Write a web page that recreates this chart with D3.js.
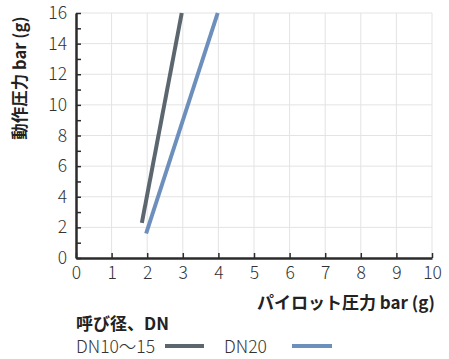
<!DOCTYPE html>
<html><head><meta charset="utf-8">
<script src="https://cdn.jsdelivr.net/npm/d3@7"></script>
<style>body{margin:0;background:#fff}svg{display:block}text{font-family:"Noto Sans CJK JP","Noto Sans",sans-serif}</style>
</head><body><svg id="c" width="449" height="359"></svg>
<script>
const seriesNames = ["DN10〜15", "DN20"];
const seriesColors = ["#5b666f", "#6d8fbb"];
const dn10x = [1.85, 2.97];
const dn10y = [2.3, 16];
const dn20x = [1.97, 3.98];
const dn20y = [1.6, 16];
const xTicks = [0,1,2,3,4,5,6,7,8,9,10];
const yTicks = [0,2,4,6,8,10,12,14,16];
const yMinor = [1,3,5,7,9,11,13,15];
const xLabel = "パイロット圧力 bar (g)";
const yLabel = "動作圧力 bar (g)";
const legendTitle = "呼び径、DN";

const svg = d3.select("#c");
const x = d3.scaleLinear().domain([0,10]).range([76,432]);
const y = d3.scaleLinear().domain([0,16]).range([258,13]);

// grid
svg.append("g").selectAll("line").data(xTicks.slice(1)).join("line")
  .attr("x1", d=>x(d)).attr("x2", d=>x(d)).attr("y1", y(0)).attr("y2", y(16))
  .attr("stroke", "#e3e3e3").attr("stroke-width", 1);
svg.append("g").selectAll("line").data(yTicks.slice(1)).join("line")
  .attr("x1", x(0)).attr("x2", x(10)).attr("y1", d=>y(d)).attr("y2", d=>y(d))
  .attr("stroke", "#e3e3e3").attr("stroke-width", 1);

// series
const series = [
  dn10x.map((v,i)=>[v, dn10y[i]]),
  dn20x.map((v,i)=>[v, dn20y[i]])
];
const line = d3.line().x(d=>x(d[0])).y(d=>y(d[1]));
series.forEach((s,i)=>{
  svg.append("path").attr("d", line(s)).attr("fill","none")
    .attr("stroke", seriesColors[i]).attr("stroke-width", 4);
});

// axes
const xAxis = svg.append("g").attr("transform", `translate(0,${y(0)})`)
  .call(d3.axisBottom(x).tickValues(xTicks).tickSizeInner(-5).tickSizeOuter(0).tickPadding(10).tickFormat(d3.format("d")));
const yAxis = svg.append("g").attr("transform", `translate(${x(0)},0)`)
  .call(d3.axisLeft(y).tickValues(yTicks).tickSizeInner(-5).tickSizeOuter(0).tickPadding(10).tickFormat(d3.format("d")));
svg.append("g").attr("transform", `translate(${x(0)},0)`)
  .call(d3.axisLeft(y).tickValues(yMinor).tickSizeInner(-5).tickSizeOuter(0).tickFormat(""))
  .select(".domain").remove();
svg.selectAll(".domain").attr("stroke","#2b2b2b").attr("stroke-width",2.5);
svg.selectAll(".tick line").attr("stroke","#2b2b2b").attr("stroke-width",1.5);
svg.selectAll(".tick text").attr("font-size", 17.5).attr("font-weight", 300).attr("fill","#333")
  .style("font-family", '"Noto Sans CJK JP","Noto Sans",sans-serif');
xAxis.selectAll(".tick text").attr("dy","0.71em").attr("y", 9);
yAxis.selectAll(".tick text").attr("x", -9);

// axis labels
svg.append("text").attr("x", 435).attr("y", 309).attr("text-anchor","end")
  .attr("font-size", 17).attr("font-weight", 700).attr("fill","#222").text(xLabel);
svg.append("text").attr("transform", "translate(26,78) rotate(-90)").attr("text-anchor","middle")
  .attr("font-size", 16.5).attr("font-weight", 700).attr("fill","#222").text(yLabel);

// legend
svg.append("text").attr("x", 76).attr("y", 330).attr("font-size", 17).attr("font-weight", 700)
  .attr("fill","#222").text(legendTitle);
const legX = [76, 224];
const legLine = [[165,204],[292,332]];
seriesNames.forEach((n,i)=>{
  svg.append("text").attr("x", legX[i]).attr("y", 353).attr("font-size", 17.5).attr("font-weight", 300)
    .attr("fill","#333").text(n);
  svg.append("line").attr("x1", legLine[i][0]).attr("x2", legLine[i][1]).attr("y1", 346).attr("y2", 346)
    .attr("stroke", seriesColors[i]).attr("stroke-width", 4);
});
</script></body></html>
